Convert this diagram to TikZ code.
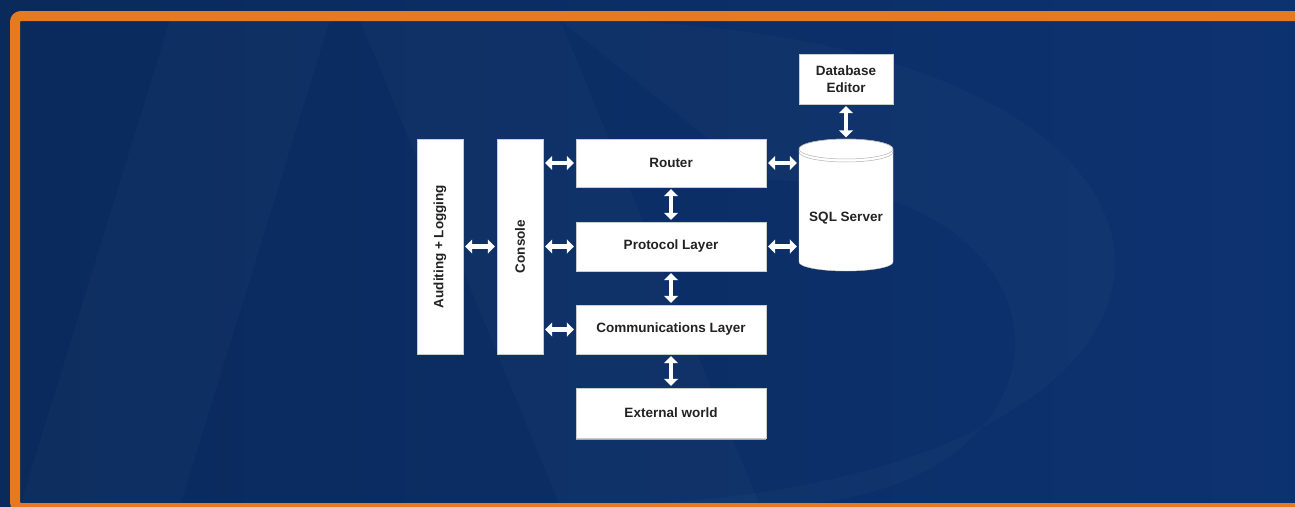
\documentclass[tikz,border=0pt]{standalone}
\usepackage{fontspec}
\setmainfont{Liberation Sans}
\usetikzlibrary{arrows.meta}
\definecolor{bgblue}{HTML}{0A2A5C}
\definecolor{bglight}{HTML}{0D3270}
\definecolor{frameorange}{HTML}{E8791E}
\definecolor{txtgray}{HTML}{222222}
\tikzset{
  box/.style={draw=gray!40, line width=0.4pt, fill=white, text=txtgray, font=\bfseries\fontsize{13.5}{16}\selectfont, inner sep=0pt, align=center},
  dbl/.style={draw=white, line width=4.5pt, {Triangle[width=14pt,length=7pt]}-{Triangle[width=14pt,length=7pt]}, shorten <=2pt, shorten >=2pt},
  ghost/.style={fill=white, fill opacity=0.018, draw=none}
}
\begin{document}
\begin{tikzpicture}[x=1pt,y=-1pt]
\useasboundingbox (0,0) rectangle (1295,506);
\begin{scope}
\clip (0,0) rectangle (1295,506);
\shade[left color=bgblue, right color=bglight] (0,0) rectangle (1295,506);
% faint watermark shapes
\fill[ghost] (20,506) -- (170,20) -- (330,20) -- (180,506) -- cycle;
\fill[ghost] (360,20) -- (560,20) -- (760,506) -- (560,506) -- cycle;
\fill[ghost] (560,20) .. controls (1300,20) and (1300,506) .. (560,506) -- (760,506) .. controls (1100,506) and (1100,180) .. (760,180) -- cycle;
% orange frame
\draw[frameorange, line width=10pt, rounded corners=6pt] (15,16) rectangle (1320,508);
\end{scope}

% nodes
\node[box, minimum width=46pt, minimum height=215pt] (audit) at (440,246.5) {\rotatebox{90}{Auditing + Logging}};
\node[box, minimum width=46pt, minimum height=215pt] (console) at (520,246.5) {\rotatebox{90}{Console}};
\node[box, minimum width=190pt, minimum height=48pt] (router) at (671,163) {Router};
\node[box, minimum width=190pt, minimum height=49pt] (proto) at (671,246.5) {Protocol Layer};
\node[box, minimum width=190pt, minimum height=49pt] (comm) at (671,329.5) {Communications Layer};
\fill[gray!70] (576,437) rectangle (766,439.5);
\node[box, minimum width=190pt, minimum height=50pt] (ext) at (671,413) {External world};
\node[box, minimum width=94pt, minimum height=50pt, font=\bfseries\fontsize{13.5}{17}\selectfont] (dbed) at (846,79) {Database\\Editor};

% SQL Server cylinder
\path[fill=white, draw=gray!40, line width=0.4pt]
  (799,149) -- (799,262) arc[start angle=180, end angle=360, x radius=47pt, y radius=9pt]
  -- (893,149) arc[start angle=0, end angle=180, x radius=47pt, y radius=10pt] -- cycle;
\draw[gray!60, line width=0.5pt] (846,149) ellipse[x radius=47pt, y radius=10pt];
\draw[gray!60, line width=0.5pt] (799,152) arc[start angle=180, end angle=360, x radius=47pt, y radius=10pt];
\node[minimum width=94pt, minimum height=131pt, inner sep=0pt] (sql) at (846,205) {};
\node[text=txtgray, font=\bfseries\fontsize{13.5}{16}\selectfont] (sqltxt) at (846,218) {SQL Server};

% connectors
\draw[dbl] (audit.east |- proto.west) -- (console.west |- proto.west);
\draw[dbl] (console.east |- router.west) -- (router.west);
\draw[dbl] (console.east |- proto.west) -- (proto.west);
\draw[dbl] (console.east |- comm.west) -- (comm.west);
\draw[dbl] (router.east) -- (sql.west |- router.east);
\draw[dbl] (proto.east) -- (sql.west |- proto.east);
\draw[dbl] (router.south) -- (proto.north);
\draw[dbl] (proto.south) -- (comm.north);
\draw[dbl] (comm.south) -- (ext.north);
\draw[dbl] (dbed.south) -- (sql.north);
\end{tikzpicture}
\end{document}
